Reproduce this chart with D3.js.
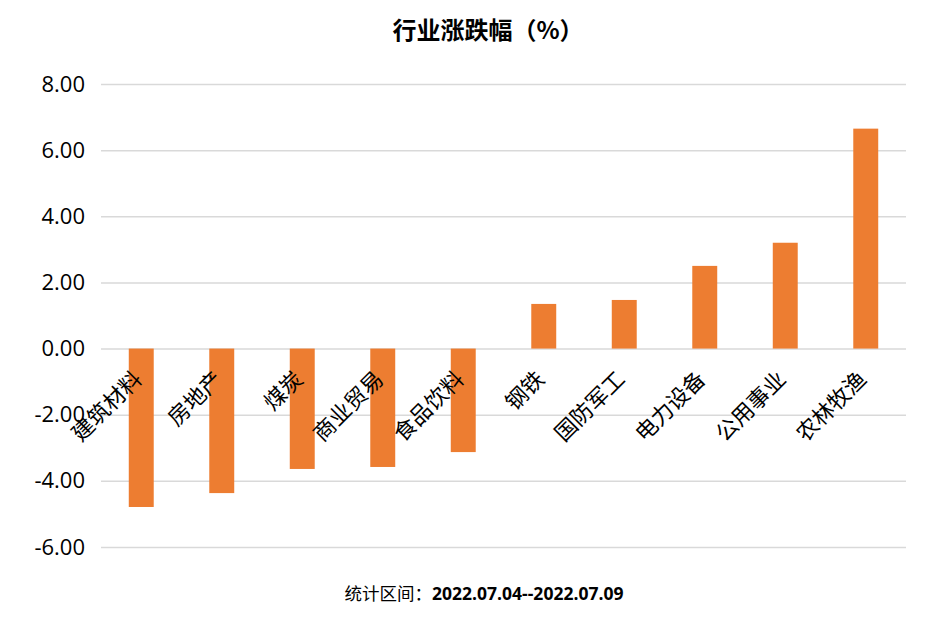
<!DOCTYPE html>
<html>
<head>
<meta charset="utf-8">
<script src="https://cdn.jsdelivr.net/npm/d3@7"></script>
<style>
  body { margin: 0; background: #fff; }
  svg { display: block; font-family: "Noto Sans CJK SC", "Noto Sans", sans-serif; }
</style>
</head>
<body>
<div id="chart"></div>
<script>
const WIDTH = 936;
const HEIGHT = 618;
const MARGIN = { top: 84, right: 30, bottom: 71, left: 101 };
const BAR_COLOR = "#ed7d31";
const GRID_COLOR = "#d9d9d9";

const industries = ["建筑材料", "房地产", "煤炭", "商业贸易", "食品饮料", "钢铁", "国防军工", "电力设备", "公用事业", "农林牧渔"];
const changes = [-4.79, -4.37, -3.64, -3.58, -3.13, 1.35, 1.47, 2.50, 3.20, 6.65];
const yTicks = [-6, -4, -2, 0, 2, 4, 6, 8];
const title = "行业涨跌幅（%）";
const periodLabel = "统计区间：";
const periodValue = "2022.07.04--2022.07.09";

const svg = d3.select("#chart")
  .append("svg")
  .attr("width", WIDTH)
  .attr("height", HEIGHT);

const x = d3.scaleBand()
  .domain(industries)
  .range([MARGIN.left, WIDTH - MARGIN.right])
  .paddingInner(0.69)
  .paddingOuter(0.345);

const y = d3.scaleLinear()
  .domain([-6, 8])
  .range([HEIGHT - MARGIN.bottom, MARGIN.top]);

// gridlines + tick labels (plain hyphen for negatives, like the original)
const fmt = d3.format(".2f");
const yAxis = d3.axisLeft(y)
  .tickValues(yTicks)
  .tickSize(-(WIDTH - MARGIN.left - MARGIN.right))
  .tickPadding(16)
  .tickFormat(d => fmt(d).replace("\u2212", "-"));

const yg = svg.append("g")
  .attr("transform", `translate(${MARGIN.left},0)`)
  .call(yAxis);
yg.select(".domain").remove();
yg.selectAll(".tick line").attr("stroke", GRID_COLOR).attr("stroke-width", 1.5);
yg.selectAll(".tick text")
  .attr("fill", "#000")
  .style("font-size", "22px")
  .style("font-family", "'Open Sans', 'Noto Sans', sans-serif");

// bars
svg.append("g")
  .selectAll("rect")
  .data(industries)
  .join("rect")
  .attr("x", d => x(d))
  .attr("width", x.bandwidth())
  .attr("y", (d, i) => y(Math.max(0, changes[i])))
  .attr("height", (d, i) => Math.abs(y(changes[i]) - y(0)))
  .attr("fill", BAR_COLOR);

// category labels, rotated
svg.append("g")
  .selectAll("text")
  .data(industries)
  .join("text")
  .attr("transform", d => `translate(${x(d) + x.bandwidth() / 2 + 2},${y(0) + 32}) rotate(-45)`)
  .attr("text-anchor", "end")
  .attr("fill", "#000")
  .style("font-size", "22px")
  .text(d => d);

// title
svg.append("text")
  .attr("x", 488)
  .attr("y", 39)
  .attr("text-anchor", "middle")
  .style("font-size", "24px")
  .style("font-weight", "bold")
  .text(title);

// footer
const foot = svg.append("text")
  .attr("x", 484)
  .attr("y", 600)
  .attr("text-anchor", "middle")
  .style("font-size", "17.5px");
foot.append("tspan").text(periodLabel);
foot.append("tspan").style("font-weight", "bold").style("font-family", "'Open Sans', sans-serif").text(periodValue);
</script>
</body>
</html>
